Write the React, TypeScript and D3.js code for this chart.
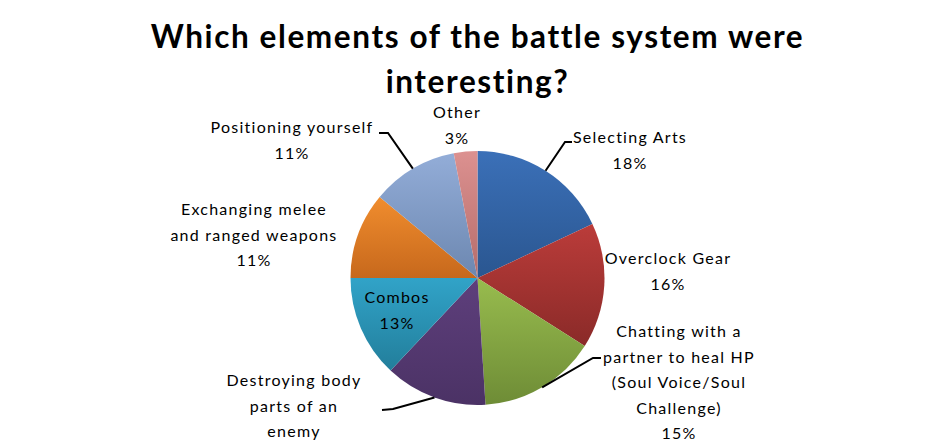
import * as React from 'react'
import * as d3 from 'd3'

// data
const categories = [
  'Selecting Arts',
  'Overclock Gear',
  'Chatting with a partner to heal HP (Soul Voice/Soul Challenge)',
  'Destroying body parts of an enemy',
  'Combos',
  'Exchanging melee and ranged weapons',
  'Positioning yourself',
  'Other',
]
const values = [18, 16, 15, 13, 13, 11, 11, 3]
const labelLines = [
  ['Selecting Arts'],
  ['Overclock Gear'],
  ['Chatting with a', 'partner to heal HP', '(Soul Voice/Soul', 'Challenge)'],
  ['Destroying body', 'parts of an', 'enemy'],
  ['Combos'],
  ['Exchanging melee', 'and ranged weapons'],
  ['Positioning yourself'],
  ['Other'],
]
// the percentage of "Destroying body parts" falls below the picture's edge
const showPercent = [true, true, true, false, true, true, true, true]
const titleLines = ['Which elements of the battle system were', 'interesting?']

// slice colours: top / bottom of the gradient
const colorsTop = ['#3b70b8', '#bb3c3a', '#98bc4e', '#5e3f7c', '#31a3c8', '#f08d2e', '#93add8', '#dc9190']
const colorsBottom = ['#2a5690', '#8a2a28', '#6e8c36', '#4b3265', '#227e9b', '#c7681c', '#6c87b0', '#b56c6a']

// label placement (centre x, first baseline y) and leader elbows
const labelPos: [number, number][] = [
  [630, 143],
  [668, 264],
  [679, 337],
  [294, 386],
  [397, 303],
  [254, 215],
  [292, 133],
  [457, 118],
]
const leaders: { index: number; elbow: [number, number]; end: [number, number] }[] = [
  { index: 0, elbow: [565, 142], end: [572, 142] },
  { index: 2, elbow: [593, 358], end: [601, 358] },
  { index: 3, elbow: [393, 409], end: [382, 410] },
  { index: 6, elbow: [388, 133], end: [379, 133] },
]

const W = 951
const H = 444
const cx = 477.5
const cy = 278
const R = 127
const lineH = 25.5

export default function App() {
  const pie = d3
    .pie<number>()
    .sort(null)
    .value((d) => d)
  const arcs = pie(values)
  const arc = d3.arc<d3.PieArcDatum<number>>().innerRadius(0).outerRadius(R)
  const edge = d3.arc<d3.PieArcDatum<number>>().innerRadius(R).outerRadius(R)
  const fmt = (v: number) => `${Math.round((v / d3.sum(values)) * 100)}%`

  return (
    <>
      <style>{'body{margin:0}'}</style>
      <svg width={W} height={H} style={{ display: 'block', background: '#fff' }}>
        <defs>
          {values.map((_, i) => (
            <linearGradient key={i} id={`g${i}`} x1="0" y1="0" x2="0" y2="1">
              <stop offset="0%" stopColor={colorsTop[i]} />
              <stop offset="100%" stopColor={colorsBottom[i]} />
            </linearGradient>
          ))}
        </defs>

        <g fontFamily="Lato, 'Open Sans', sans-serif" fontWeight="bold" fontSize="31.5px" textAnchor="middle" fill="#000">
          {titleLines.map((t, i) => (
            <text key={i} x={cx} y={48 + i * 45} letterSpacing="1.6">
              {t}
            </text>
          ))}
        </g>

        <g transform={`translate(${cx},${cy})`}>
          {arcs.map((a, i) => (
            <path key={categories[i]} d={arc(a) ?? ''} fill={`url(#g${i})`} />
          ))}
        </g>

        {leaders.map((l) => {
          const [ex, ey] = edge.centroid(arcs[l.index])
          const pts = [[cx + ex, cy + ey], l.elbow, l.end]
          return (
            <polyline
              key={l.index}
              points={pts.map((p) => p.join(',')).join(' ')}
              fill="none"
              stroke="#000"
              strokeWidth={2}
            />
          )
        })}

        <g fontFamily="Lato, 'Open Sans', sans-serif" fontSize="16px" textAnchor="middle" fill="#000" letterSpacing="1.25">
          {labelLines.map((lines, i) => {
            const [x, y] = labelPos[i]
            const all = showPercent[i] ? [...lines, fmt(values[i])] : lines
            return (
              <text key={i} x={x} y={y}>
                {all.map((t, j) => (
                  <tspan key={j} x={x} y={y + j * lineH}>
                    {t}
                  </tspan>
                ))}
              </text>
            )
          })}
        </g>
      </svg>
    </>
  )
}
